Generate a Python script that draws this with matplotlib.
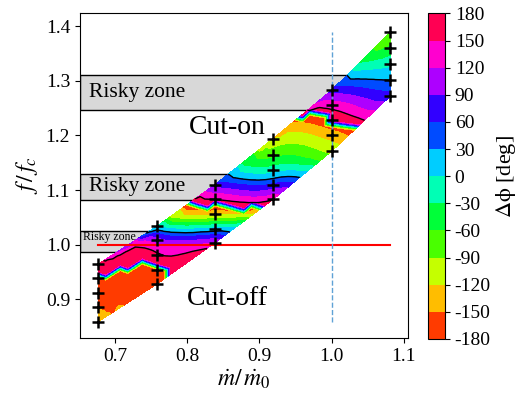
import numpy as np
import matplotlib
matplotlib.use("Agg")
import matplotlib.pyplot as plt
import matplotlib.tri as mtri
from matplotlib.patches import Rectangle

plt.rcParams["font.family"] = ["Liberation Serif", "DejaVu Serif"]
plt.rcParams["mathtext.fontset"] = "stix"
plt.rcParams["axes.unicode_minus"] = False

# Normalised mass flow of each measurement series
mdot = [0.677, 0.758, 0.838, 0.919, 1.0, 1.081]

# Normalised frequencies measured in each series (bottom to top)
freq = [
    [0.8593, 0.8868, 0.9125, 0.9389, 0.9646],
    [0.9279, 0.9541, 0.9804, 1.0079, 1.0336],
    [1.0030, 1.0290, 1.0563, 1.0830, 1.1095],
    [1.0830, 1.1100, 1.1370, 1.1646, 1.1940],
    [1.1710, 1.2000, 1.2290, 1.2560, 1.2826],
    [1.2716, 1.3009, 1.3309, 1.3602, 1.3890],
]

# Unwrapped phase difference [deg] at each measurement point
phase = [
    [-135, -152, -165, -176, -195],
    [-165, -178, -203, -255, -360],
    [-240, -350, -490, -570, -645],
    [-575, -655, -735, -790, -840],
    [-820, -855, -900, -945, -1005],
    [-1010, -1050, -1090, -1135, -1175],
]

# Risky zones: frequency bands and the wrapped-phase band that defines them
risky_low = [0.9866, 1.0826, 1.2459]
risky_high = [1.0257, 1.1297, 1.3106]
risky_right = [0.785, 0.885, 1.04]
risky_fontsize = [8.5, 15.5, 15.5]
risky_phase = [30, 150]

cbar_ticks = list(range(-180, 181, 30))

n_col, n_pt = len(mdot), len(freq[0])
F = np.array(freq)
P = np.array(phase, dtype=float)
x = np.repeat(mdot, n_pt).astype(float)
y = F.ravel()
phi = P.ravel()

# Strip triangulation between neighbouring series
triangles = []
for k in range(n_col - 1):
    a = list(range(k * n_pt, (k + 1) * n_pt))
    b = list(range((k + 1) * n_pt, (k + 2) * n_pt))
    i = j = 0
    while i < n_pt - 1 or j < n_pt - 1:
        if j == n_pt - 1 or (i < n_pt - 1 and y[a[i + 1]] <= y[b[j + 1]]):
            triangles.append([a[i], b[j], a[i + 1]])
            i += 1
        else:
            triangles.append([a[i], b[j], b[j + 1]])
            j += 1
tri = mtri.Triangulation(x, y, triangles)
interp = mtri.CubicTriInterpolator(tri, phi, kind="min_E")

# Evaluation mesh: 8 steps between series, 2 steps between measured points
nu, nv = 8, 2
v = np.linspace(0, n_pt - 1, (n_pt - 1) * nv + 1)
idx = np.arange(n_pt)
cols_f = np.array([np.interp(v, idx, F[c]) for c in range(n_col)])
cols_p = np.array([np.interp(v, idx, P[c]) for c in range(n_col)])
gx, gy, gp = [], [], []
n_lines = (n_col - 1) * nu + 1
for g in range(n_lines):
    c = min(g // nu, n_col - 2)
    u = (g - c * nu) / nu
    gx.append(np.full(v.size, mdot[c] + u * (mdot[c + 1] - mdot[c])))
    gy.append((1 - u) * cols_f[c] + u * cols_f[c + 1])
    gp.append((1 - u) * cols_p[c] + u * cols_p[c + 1])
gx = np.concatenate(gx)
gy = np.concatenate(gy)
gp = np.concatenate(gp)
nv_tot = v.size
mesh = []
for g in range(n_lines - 1):
    for m in range(nv_tot - 1):
        p00 = g * nv_tot + m
        p10 = (g + 1) * nv_tot + m
        mesh.append([p00, p10, p00 + 1])
        mesh.append([p10, p10 + 1, p00 + 1])
tri_f = mtri.Triangulation(gx, gy, mesh)
phi_f = np.ma.filled(interp(gx, gy), np.nan)
phi_f = np.where(np.isnan(phi_f), gp, phi_f)
phi_w = (phi_f + 180.0) % 360.0 - 180.0

fig = plt.figure(figsize=(5.22, 3.96), dpi=100)
ax = fig.add_axes([0.153, 0.146, 0.629, 0.822])
cax = fig.add_axes([0.8205, 0.144, 0.032, 0.822])

x0, x1 = 0.6515, 1.106
ax.set_xlim(x0, x1)
ax.set_ylim(0.829, 1.4245)

for lo, hi, xr in zip(risky_low, risky_high, risky_right):
    ax.add_patch(Rectangle((x0, lo), xr - x0, hi - lo, facecolor="#d8d8d8",
                           edgecolor="black", lw=1.0, zorder=1))

levels = np.arange(-180, 181, 30)
cf = ax.tricontourf(tri_f, phi_w, levels=levels, cmap="hsv",
                    vmin=-180, vmax=180, zorder=2)

line_levels = sorted(p - 360 * k for k in (1, 2, 3) for p in risky_phase)
ax.tricontour(tri_f, phi_f, levels=line_levels, colors="black",
              linewidths=1.0, linestyles="solid", zorder=3)

ax.plot([min(mdot), max(mdot)], [1.0, 1.0], color="red", lw=1.5, zorder=4)
ax.plot([1.0, 1.0], [y.min(), y.max()], ls="--", color="#5fa2d6", lw=1.0,
        zorder=4)
ax.plot(x, y, "k+", ms=8, mew=1.8, zorder=5)

ax.text(0.6635, 1.279, "Risky zone", fontsize=risky_fontsize[2], va="center", zorder=6)
ax.text(0.6635, 1.107, "Risky zone", fontsize=risky_fontsize[1], va="center", zorder=6)
ax.text(0.6555, 1.014, "Risky zone", fontsize=risky_fontsize[0], va="center", zorder=6)
ax.text(0.855, 1.215, "Cut-on", fontsize=20, ha="center", va="center", zorder=6)
ax.text(0.855, 0.901, "Cut-off", fontsize=20, ha="center", va="center", zorder=6)

ax.set_xticks([0.7, 0.8, 0.9, 1.0, 1.1])
ax.set_yticks([0.9, 1.0, 1.1, 1.2, 1.3, 1.4])
ax.tick_params(labelsize=14)
ax.set_xlabel(r"$\dot{m}/\,\dot{m}_0$", fontsize=17, labelpad=2)
ax.set_ylabel(r"$f\,/\,f_c$", fontsize=17, labelpad=4)

cb = fig.colorbar(cf, cax=cax, ticks=cbar_ticks)
cb.ax.tick_params(labelsize=14)
cb.set_label(r"$\mathrm{\Delta\phi}$ [deg]", fontsize=16, labelpad=2)

fig.savefig("out.png", dpi=100)
